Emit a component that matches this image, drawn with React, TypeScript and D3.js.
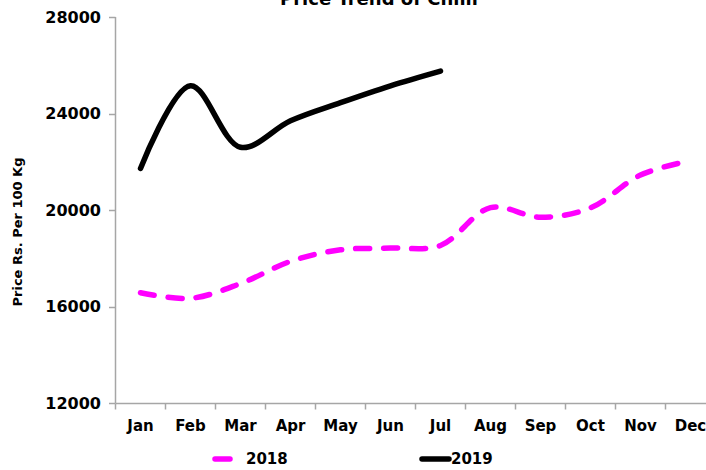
import React from "react";
import * as d3 from "d3";

const months = ["Jan", "Feb", "Mar", "Apr", "May", "Jun", "Jul", "Aug", "Sep", "Oct", "Nov", "Dec"];
const values2018 = [16570, 16340, 16950, 17870, 18350, 18420, 18530, 20100, 19700, 20090, 21450, 22050];
const values2019 = [21720, 25150, 22600, 23700, 24450, 25150, 25760];
const yTicks = [12000, 16000, 20000, 24000, 28000];
const seriesNames = ["2018", "2019"];

const W = 706;
const H = 470;
const FONT = "'DejaVu Sans', Verdana, sans-serif";

export default function App() {
  const x = d3.scaleBand<string>().domain(months).range([115.5, 715.5]);
  const y = d3.scaleLinear().domain([12000, 28000]).range([403, 17]);
  const cx = (m: string) => (x(m) as number) + x.bandwidth() / 2;

  const line = d3
    .line<[string, number]>()
    .x((d) => cx(d[0]))
    .y((d) => y(d[1]))
    .curve(d3.curveCatmullRom.alpha(0.5));

  const d2018 = line(months.map((m, i) => [m, values2018[i]] as [string, number])) || "";
  const d2019 = line(values2019.map((v, i) => [months[i], v] as [string, number])) || "";

  const axisColor = "#a6a6a6";
  const boundaries = months.map((m) => x(m) as number).concat([(x(months[11]) as number) + x.bandwidth()]);

  return (
    <svg width={W} height={H} style={{ position: "absolute", left: 0, top: 0, background: "#fff" }} fontFamily={FONT}>
      <rect width={W} height={H} fill="#fff" />
      <text x={379} y={5} textAnchor="middle" fontSize={18} fontWeight="bold" fill="#000">
        Price Trend of Chilli
      </text>
      {/* y axis */}
      <line x1={115.5} x2={115.5} y1={y(28000)} y2={y(12000)} stroke={axisColor} strokeWidth={1.5} />
      {yTicks.map((t) => (
        <g key={t}>
          <line x1={109} x2={115.5} y1={Math.round(y(t)) + 0.5} y2={Math.round(y(t)) + 0.5} stroke={axisColor} strokeWidth={1.5} />
          <text x={101} y={y(t)} dy="0.36em" textAnchor="end" fontSize={16} fontWeight="bold" fill="#000">
            {t}
          </text>
        </g>
      ))}
      {/* x axis */}
      <line x1={115.5} x2={W} y1={403.5} y2={403.5} stroke={axisColor} strokeWidth={1.5} />
      {boundaries.map((b, i) => (
        <line key={i} x1={b} x2={b} y1={403.5} y2={409.5} stroke={axisColor} strokeWidth={1.5} />
      ))}
      {months.map((m) => (
        <text key={m} x={cx(m)} y={431} textAnchor="middle" fontSize={15} fontWeight="bold" fill="#000">
          {m}
        </text>
      ))}
      <text
        transform={`translate(22,${232}) rotate(-90)`}
        textAnchor="middle"
        fontSize={13}
        fontWeight="bold"
        fill="#000"
      >
        Price Rs. Per 100 Kg
      </text>
      {/* series */}
      <path d={d2018} fill="none" stroke="#ff00ff" strokeWidth={5.5} strokeLinecap="round" strokeDasharray="14 14" />
      <path d={d2019} fill="none" stroke="#000" strokeWidth={5.5} strokeLinecap="round" />
      {/* legend */}
      <line x1={215} x2={230} y1={459} y2={459} stroke="#ff00ff" strokeWidth={5.5} strokeLinecap="round" />
      <text x={246} y={459} dy="0.36em" fontSize={15} fontWeight="bold" fill="#000">
        {seriesNames[0]}
      </text>
      <line x1={422} x2={449} y1={459} y2={459} stroke="#000" strokeWidth={5.5} strokeLinecap="round" />
      <text x={451} y={459} dy="0.36em" fontSize={15} fontWeight="bold" fill="#000">
        {seriesNames[1]}
      </text>
    </svg>
  );
}
